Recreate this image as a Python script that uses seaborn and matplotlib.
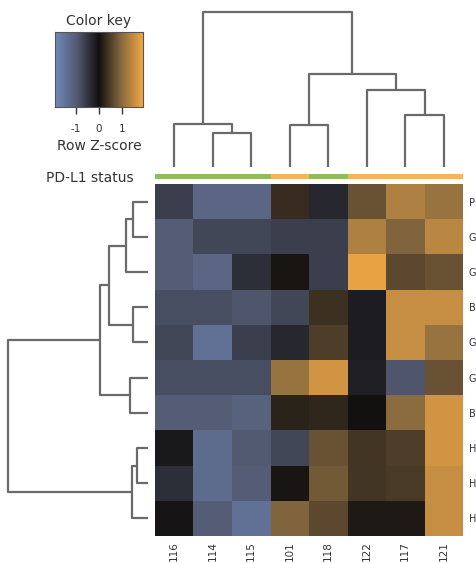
import numpy as np
import pandas as pd
import matplotlib
matplotlib.use("Agg")
import matplotlib.pyplot as plt
import seaborn as sns
from matplotlib.colors import LinearSegmentedColormap, ListedColormap

# ---------------- data ----------------
samples = ["116", "114", "115", "101", "118", "122", "117", "121"]
genes = ["P", "G", "G", "B", "G", "G", "B", "H", "H", "H"]
pdl1_status = [0, 0, 0, 1, 0, 1, 1, 1]          # 0 = negative (green), 1 = positive (orange)
zscores = [
    [-0.6, -1.2, -1.2,  0.3, -0.3,  0.7,  1.3,  1.1],
    [-1.0, -0.7, -0.7, -0.6, -0.6,  1.3,  0.9,  1.4],
    [-1.0, -1.2, -0.4,  0.05, -0.6, 1.8,  0.6,  0.7],
    [-0.8, -0.8, -0.9, -0.7,  0.35, -0.15, 1.5, 1.5],
    [-0.7, -1.4, -0.6, -0.3,  0.5, -0.15, 1.5,  1.1],
    [-0.8, -0.8, -0.8,  1.1,  1.6, -0.2, -0.9,  0.7],
    [-1.0, -1.0, -1.1,  0.2,  0.25, 0.0,  1.0,  1.6],
    [-0.1, -1.3, -0.95, -0.7, 0.7,  0.4,  0.5,  1.6],
    [-0.4, -1.3, -1.0,  0.05, 0.8,  0.4,  0.45, 1.5],
    [-0.05, -1.0, -1.4, 0.9,  0.6,  0.1,  0.1,  1.5],
]
# dendrogram merges (left index, right index, height); new cluster ids follow leaves
col_merges = [(1, 2, 34), (0, 8, 43), (3, 4, 42), (6, 7, 52), (5, 11, 77), (10, 12, 93), (9, 13, 155)]
row_merges = [(0, 1, 15), (10, 2, 22), (3, 4, 15), (11, 12, 39), (5, 6, 18), (13, 14, 48),
              (7, 8, 11), (16, 9, 16), (15, 17, 140)]
key_ticks = [-1, 0, 1]
key_labels = ["-1", "0", "1"]

# ---------------- style ----------------
sns.set_theme(style="white")
plt.rcParams["font.family"] = ["DejaVu Sans"]
txt = "#333333"
line_col = "#6a6a6a"
cmap = LinearSegmentedColormap.from_list(
    "bko",
    [(0.0, "#7089bd"), (0.25, "#525a70"), (0.5, "#121010"), (0.75, "#85683f"), (1.0, "#f2a845")])
vmin, vmax = -1.9, 1.9

W, H = 477, 564
fig = plt.figure(figsize=(W / 100, H / 100), dpi=100)

def fax(x0, y0, x1, y1):
    return fig.add_axes([x0 / W, 1 - y1 / H, (x1 - x0) / W, (y1 - y0) / H])

# heatmap
ax = fax(155, 184, 463, 536)
df = pd.DataFrame(zscores, index=genes, columns=samples)
sns.heatmap(df, ax=ax, cmap=cmap, vmin=vmin, vmax=vmax, cbar=False,
            xticklabels=True, yticklabels=True)
ax.yaxis.tick_right()
ax.set_yticklabels(genes, rotation=0, fontsize=7, color=txt)
ax.set_xticklabels(samples, rotation=90, fontsize=7.5, color=txt)
ax.tick_params(axis="both", length=0, pad=4)
ax.set_xlabel("")
ax.set_ylabel("")

# PD-L1 status bar
axc = fax(155, 174, 463, 179)
sns.heatmap(pd.DataFrame([pdl1_status], columns=samples), ax=axc,
            cmap=ListedColormap(["#8fbb63", "#f2b558"]), vmin=0, vmax=1,
            cbar=False, xticklabels=False, yticklabels=False)
fig.text(134 / W, 1 - 178 / H, "PD-L1 status", ha="right", va="center",
         fontsize=10, color=txt)

# dendrogram helper
def dendro_coords(merges, n):
    pos = {i: i + 0.5 for i in range(n)}
    hgt = {i: 0.0 for i in range(n)}
    segs = []
    for k, (a, b, h) in enumerate(merges):
        cid = n + k
        segs.append(([pos[a], pos[a], pos[b], pos[b]], [hgt[a], h, h, hgt[b]]))
        pos[cid] = (pos[a] + pos[b]) / 2
        hgt[cid] = h
    return segs

# top dendrogram
axt = fax(155, 8, 463, 167)
for xs, ys in dendro_coords(col_merges, len(samples)):
    axt.plot(xs, ys, color=line_col, lw=1.6, solid_capstyle="butt")
axt.set_xlim(0, len(samples))
axt.set_ylim(0, 159)
axt.axis("off")

# left dendrogram
axl = fax(5, 184, 148, 536)
for xs, ys in dendro_coords(row_merges, len(genes)):
    axl.plot(ys, xs, color=line_col, lw=1.6, solid_capstyle="butt")
axl.set_ylim(len(genes), 0)
axl.set_xlim(143, 0)
axl.axis("off")

# color key
axk = fax(55, 32, 143, 107)
grad = np.linspace(vmin, vmax, 256)[None, :]
axk.imshow(grad, aspect="auto", cmap=cmap, vmin=vmin, vmax=vmax,
           extent=[vmin, vmax, 0, 1])
axk.set_yticks([])
axk.set_xticks(key_ticks)
axk.set_xticklabels(key_labels, fontsize=7.5, color=txt)
axk.tick_params(axis="x", direction="out", length=5, width=1, color="#333333", pad=7, bottom=True)
for s in axk.spines.values():
    s.set_visible(True)
    s.set_color("#555555")
    s.set_linewidth(0.8)
axk.set_title("Color key", fontsize=10, color=txt, pad=5)
axk.set_xlabel("Row Z-score", fontsize=10, color=txt, labelpad=4)

fig.savefig("out.png", dpi=100)
